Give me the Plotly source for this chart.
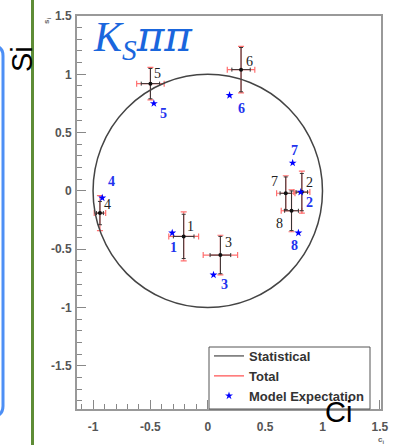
import plotly.graph_objects as go

# ---- data ----
bins = ["1", "2", "3", "4", "5", "6", "7", "8"]
c_meas = [-0.21, 0.82, 0.11, -0.94, -0.50, 0.29, 0.68, 0.73]
s_meas = [-0.39, -0.01, -0.55, -0.19, 0.92, 1.04, -0.02, -0.17]
c_err_stat = [0.09, 0.05, 0.09, 0.03, 0.08, 0.08, 0.05, 0.06]
s_err_stat = [0.19, 0.16, 0.16, 0.10, 0.13, 0.19, 0.14, 0.17]
c_err_tot = [0.13, 0.07, 0.15, 0.05, 0.12, 0.12, 0.08, 0.09]
s_err_tot = [0.21, 0.18, 0.17, 0.15, 0.14, 0.20, 0.15, 0.18]
c_model = [-0.31, 0.81, 0.05, -0.92, -0.47, 0.19, 0.74, 0.79]
s_model = [-0.36, -0.01, -0.72, -0.06, 0.75, 0.82, 0.24, -0.36]
xtick_vals = [-1, -0.5, 0, 0.5, 1, 1.5]
xtick_text = ["-1", "-0.5", "0", "0.5", "1", "1.5"]
ytick_vals = [-1.5, -1, -0.5, 0, 0.5, 1, 1.5]
ytick_text = ["-1.5", "-1", "-0.5", "0", "0.5", "1", "1.5"]

# label offsets in pixels (dx, dy with dy downward)
meas_lab_off = [(7, -10), (8, -10), (8, -13), (8, -9), (7, -10), (8, -8), (-11, -12), (-12, 13)]
model_lab_off = [(1, 15), (9, 10), (11, 10), (9, -16), (10, 10), (12, 13), (2, -12), (-4, 13)]

W, H = 394, 445
L, R, T, B = 77, 13, 16, 36
PW, PH = W - L - R, H - T - B


def px(xp):
    return (xp - L) / PW


def py(yp):
    return (H - B - yp) / PH


fig = go.Figure()

# total errors (red)
fig.add_trace(go.Scatter(
    x=c_meas, y=s_meas, mode="markers", showlegend=False,
    marker=dict(size=1, color="rgba(0,0,0,0)"),
    error_x=dict(type="data", array=c_err_tot, color="#ff7070", thickness=1.2, width=3),
    error_y=dict(type="data", array=s_err_tot, color="#ff7070", thickness=1.2, width=3),
))
# statistical errors (black)
fig.add_trace(go.Scatter(
    x=c_meas, y=s_meas, mode="markers", showlegend=False,
    marker=dict(size=4, color="#111"),
    error_x=dict(type="data", array=c_err_stat, color="#333", thickness=1, width=2),
    error_y=dict(type="data", array=s_err_stat, color="#333", thickness=1, width=2),
))

# legend-only entries
fig.add_trace(go.Scatter(x=[None], y=[None], mode="lines", name="Statistical",
                         line=dict(color="#222", width=1)))
fig.add_trace(go.Scatter(x=[None], y=[None], mode="lines", name="Total",
                         line=dict(color="#ff7070", width=1.5)))
# model expectation
fig.add_trace(go.Scatter(x=c_model, y=s_model, mode="markers", name="Model Expectation",
                         marker=dict(symbol="star", size=6, color="#0000ff")))

# unit circle
fig.add_shape(type="circle", xref="x", yref="y", x0=-1, y0=-1, x1=1, y1=1,
              line=dict(color="#444", width=1.5))

# legend frame (drawn as a shape; legend itself is borderless)
fig.add_shape(type="rect", xref="paper", yref="paper", x0=px(209), x1=px(370), y0=py(409), y1=py(347),
              line=dict(color="#555", width=1), fillcolor="white", layer="above")

# labels
for i, b in enumerate(bins):
    dx, dy = meas_lab_off[i]
    fig.add_annotation(x=c_meas[i], y=s_meas[i], text=b, showarrow=False,
                       xanchor="center", yanchor="middle",
                       xshift=dx, yshift=-dy,
                       font=dict(family="Liberation Serif", size=14, color="#222"))
    dx, dy = model_lab_off[i]
    fig.add_annotation(x=c_model[i], y=s_model[i], text=b, showarrow=False,
                       xanchor="center", yanchor="middle",
                       xshift=dx, yshift=-dy,
                       font=dict(family="Liberation Serif", size=14, color="#2233ee", weight="bold"))

# title K_S pi pi
fig.add_annotation(xref="paper", yref="paper", x=px(91), y=py(10), xanchor="left", yanchor="top",
                   text="<i>K<sub>S</sub><span style=\"font-family:'DejaVu Serif'\">ππ</span></i>",
                   showarrow=False,
                   font=dict(family="Liberation Serif", size=42, color="#1a66dd"))

# big axis overlays
fig.add_annotation(xref="paper", yref="paper", x=px(338), y=py(412), text="Ci", showarrow=False,
                   xanchor="center", yanchor="middle",
                   font=dict(family="Liberation Sans", size=29, color="#000"))
fig.add_annotation(xref="paper", yref="paper", x=px(22), y=py(59), text="Si", showarrow=False,
                   xanchor="center", yanchor="middle",
                   textangle=-90, font=dict(family="Liberation Sans", size=29, color="#000"))
# tiny original axis titles
fig.add_annotation(xref="paper", yref="paper", x=px(381), y=py(440), text="c<sub>i</sub>", showarrow=False,
                   xanchor="center", yanchor="middle",
                   font=dict(family="Liberation Sans", size=8, color="#666", weight="bold"))
fig.add_annotation(xref="paper", yref="paper", x=px(47), y=py(21), text="s<sub>i</sub>", showarrow=False,
                   xanchor="center", yanchor="middle",
                   textangle=-90, font=dict(family="Liberation Sans", size=8, color="#666", weight="bold"))

# decorations: green vertical bar and blue rounded frame on left
fig.add_shape(type="line", xref="paper", yref="paper", x0=px(32.5), x1=px(32.5), y0=py(0), y1=py(445),
              line=dict(color="#5e8c36", width=3))
r = 10
path = (f"M {px(-20)},{py(46)} L {px(3-r)},{py(46)} Q {px(3)},{py(46)} {px(3)},{py(46+r)} "
        f"L {px(3)},{py(416-r)} Q {px(3)},{py(416)} {px(3-r)},{py(416)} L {px(-20)},{py(416)}")
fig.add_shape(type="path", xref="paper", yref="paper", path=path,
              line=dict(color="#4d8ff5", width=3))

axis_common = dict(showline=True, linecolor="#999", linewidth=2, mirror=True,
                   ticks="inside", ticklen=9, tickwidth=1, tickcolor="#888",
                   showgrid=False, zeroline=False, automargin=False,
                   tickfont=dict(family="Liberation Sans", size=12, color="#555", weight="bold"),
                   minor=dict(ticks="inside", ticklen=5, tickcolor="#888", tickmode="linear",
                              tick0=0, dtick=0.1))
fig.update_xaxes(range=[-1.14, 1.51], tickmode="array", tickvals=xtick_vals, ticktext=xtick_text,
                 ticklabelstandoff=6, **axis_common)
fig.update_yaxes(range=[-1.87, 1.5], tickmode="array", tickvals=ytick_vals, ticktext=ytick_text,
                 ticklabelstandoff=1, **axis_common)

fig.update_layout(
    width=W, height=H, margin=dict(l=L, r=R, t=T, b=B, autoexpand=False),
    paper_bgcolor="white", plot_bgcolor="white",
    legend=dict(x=px(209), y=py(341), xanchor="left", yanchor="top",
                borderwidth=0, bgcolor="rgba(0,0,0,0)",
                font=dict(family="Liberation Sans", size=13, color="#333", weight="bold"),
                itemwidth=30, tracegroupgap=0),
)

fig.write_html("out.html")
